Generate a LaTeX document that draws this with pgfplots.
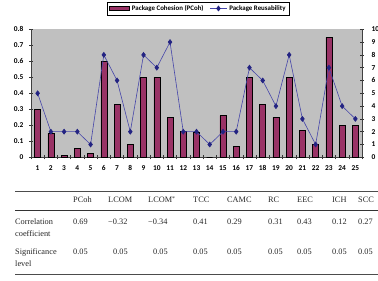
\documentclass[border=0pt]{standalone}
\usepackage{fontspec}
\setmainfont{Liberation Serif}
\newfontfamily\carlito{Carlito}
\usepackage{pgfplots}
\pgfplotsset{compat=1.18}
\definecolor{plotgray}{RGB}{192,192,192}
\definecolor{barcol}{RGB}{153,51,102}
\definecolor{linecol}{RGB}{70,70,170}
\definecolor{markcol}{RGB}{35,35,130}
\begin{document}
\begin{tikzpicture}
\useasboundingbox (0pt,0pt) rectangle (378pt,281pt);
\pgfplotsset{
  common/.style={
    at={(31pt,123.7pt)}, anchor=south west, scale only axis,
    width=331pt, height=128pt,
    xmin=0.5, xmax=25.5,
    /pgf/number format/assume math mode=true,
    ticklabel style={font=\carlito\bfseries\fontsize{7.4}{8}\selectfont},
    tick align=center, major tick length=4pt, minor tick length=4pt,
    tick style={black!80, line width=0.5pt},
    axis line style={black!75, line width=0.6pt},
  }
}
\begin{axis}[common,
  ymin=0, ymax=0.8,
  axis background/.style={fill=plotgray},
  axis x line*=bottom, axis y line*=left,
  xtick={1,...,25}, major x tick style={draw=none},
  minor xtick={0.5,1.5,2.5,3.5,4.5,5.5,6.5,7.5,8.5,9.5,10.5,11.5,12.5,13.5,14.5,15.5,16.5,17.5,18.5,19.5,20.5,21.5,22.5,23.5,24.5,25.5},
  xticklabel style={yshift=-3pt},
  ytick={0,0.1,0.2,0.3,0.4,0.5,0.6,0.7,0.8},
  yticklabel style={/pgf/number format/fixed, /pgf/number format/precision=1, xshift=-2pt},
]
\addplot[ybar, bar width=6pt, fill=barcol, draw=black, line width=0.5pt] coordinates {
(1,0.30) (2,0.15) (3,0.01) (4,0.055) (5,0.025) (6,0.60) (7,0.33) (8,0.08) (9,0.50) (10,0.50)
(11,0.25) (12,0.16) (13,0.155) (14,0) (15,0.26) (16,0.07) (17,0.50) (18,0.33) (19,0.25) (20,0.50)
(21,0.17) (22,0.08) (23,0.75) (24,0.20) (25,0.20)
};
\end{axis}
\begin{axis}[common,
  ymin=0, ymax=10,
  axis x line=none, axis y line*=right,
  ytick={0,1,...,10},
  yticklabel style={xshift=4pt},
  legend columns=2,
  legend style={at={(0.506,1.1625)}, anchor=center, draw=black, line width=0.5pt,
    fill=white, inner xsep=2pt, inner ysep=1pt,
    font=\carlito\bfseries\fontsize{6.9}{7.5}\selectfont,
    /tikz/every even column/.append style={column sep=4pt}},
]
\addlegendimage{legend image code/.code={\draw[fill=barcol, draw=black, line width=0.5pt] (0pt,-2.2pt) rectangle (20pt,2.2pt);}}
\addlegendentry{Package Cohesion (PCoh)}
\addplot[linecol, line width=0.6pt, mark=diamond*, mark size=2.5pt,
  mark options={fill=markcol, draw=markcol}] coordinates {
(1,5) (2,2) (3,2) (4,2) (5,1) (6,8) (7,6) (8,2) (9,8) (10,7)
(11,9) (12,2) (13,2) (14,1) (15,2) (16,2) (17,7) (18,6) (19,4) (20,8)
(21,3) (22,1) (23,7) (24,4) (25,3)
};
\addlegendentry{Package Reusability}
\end{axis}
% table
\draw[black!70, line width=0.5pt] (15pt,89.7pt) -- (378pt,89.7pt);
\draw[black!80, line width=0.8pt] (15pt,70.3pt) -- (378pt,70.3pt);
\draw[black!70, line width=0.5pt] (15pt,7pt) -- (378pt,7pt);
\begin{scope}[every node/.style={anchor=base west, inner sep=0pt, text=black!85,
  font=\fontsize{8.3}{10}\selectfont}]
\node at (73pt,78pt) {PCoh};
\node at (108pt,78pt) {LCOM};
\node at (148pt,78pt) {LCOM\textsuperscript{*}};
\node at (193pt,78pt) {TCC};
\node at (227pt,78pt) {CAMC};
\node at (268pt,78pt) {RC};
\node at (297pt,78pt) {EEC};
\node at (332pt,78pt) {ICH};
\node at (358pt,78pt) {SCC};
\node at (15pt,56pt) {Correlation};
\node at (15pt,44pt) {coefficient};
\node at (15pt,26.5pt) {Significance};
\node at (15pt,14.5pt) {level};
\node at (73pt,56pt) {0.69};
\node at (108pt,56pt) {−0.32};
\node at (148pt,56pt) {−0.34};
\node at (193pt,56pt) {0.41};
\node at (227pt,56pt) {0.29};
\node at (268pt,56pt) {0.31};
\node at (297pt,56pt) {0.43};
\node at (332pt,56pt) {0.12};
\node at (358pt,56pt) {0.27};
\node at (73pt,26.5pt) {0.05};
\node at (113pt,26.5pt) {0.05};
\node at (153pt,26.5pt) {0.05};
\node at (193pt,26.5pt) {0.05};
\node at (227pt,26.5pt) {0.05};
\node at (268pt,26.5pt) {0.05};
\node at (297pt,26.5pt) {0.05};
\node at (332pt,26.5pt) {0.05};
\node at (358pt,26.5pt) {0.05};
\end{scope}
\end{tikzpicture}
\end{document}
